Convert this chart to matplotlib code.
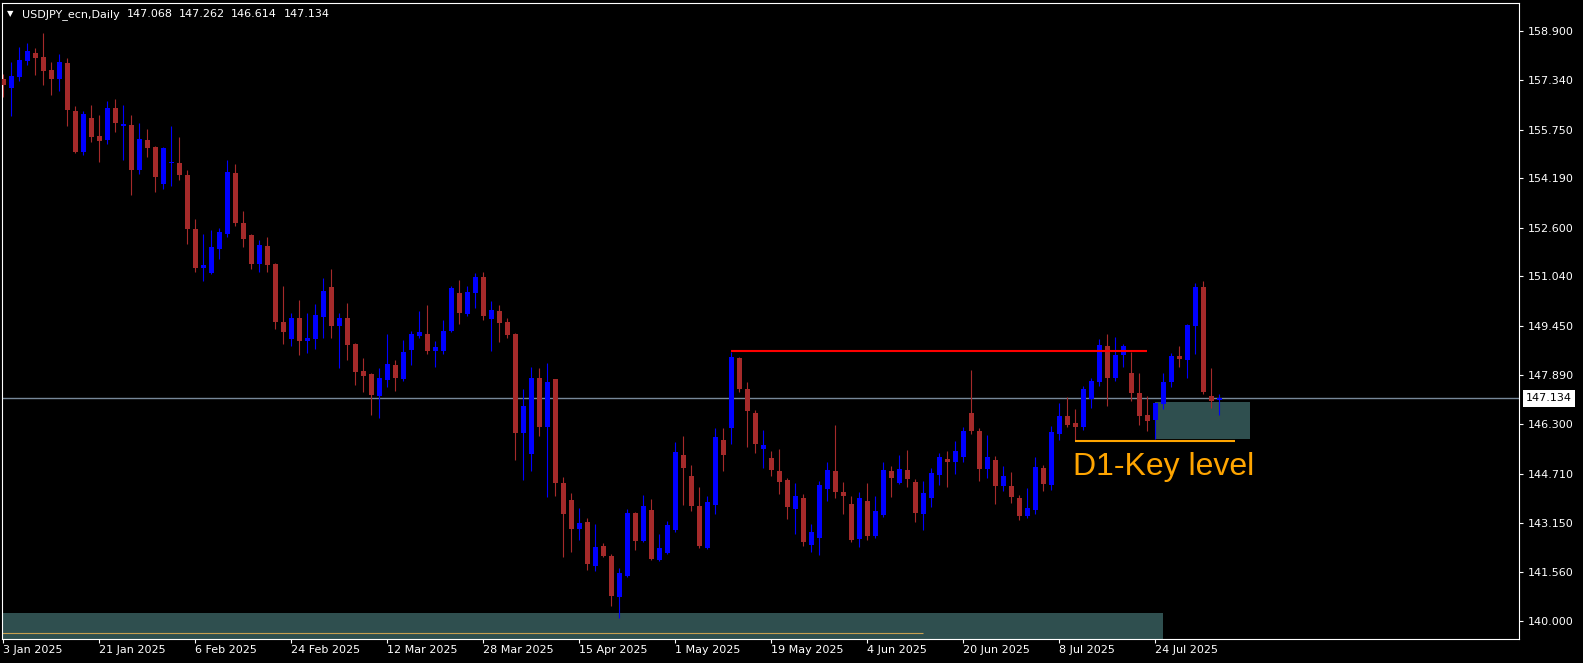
import matplotlib
matplotlib.use("Agg")
import matplotlib.pyplot as plt
import matplotlib.transforms as mtransforms
from matplotlib.patches import Rectangle
import numpy as np

# ---------------- data (USDJPY_ecn, Daily, 3 Jan 2025 .. 5 Aug 2025) ----------------
opens = [
    157.37, 157.08, 157.43, 157.95, 158.20, 158.08, 157.66, 157.37, 157.88, 156.34,
    155.03, 156.12, 155.54, 155.42, 156.44, 155.86, 155.90, 154.45, 155.42, 155.19,
    154.00, 154.69, 154.68, 154.29, 152.56, 151.31, 151.15, 151.92, 152.40, 154.36,
    152.75, 152.37, 151.44, 152.02, 151.44, 149.58, 149.04, 149.71, 148.97, 149.04,
    149.74, 150.70, 149.45, 149.71, 148.88, 148.01, 147.91, 147.21, 147.72, 148.20,
    147.75, 148.68, 149.13, 149.20, 148.65, 148.65, 149.29, 150.51, 149.84, 150.51,
    151.02, 149.68, 149.93, 149.58, 149.20, 146.02, 145.35, 147.79, 146.22, 147.75,
    144.42, 143.88, 142.95, 143.17, 141.76, 142.40, 142.08, 140.77, 141.44, 143.46,
    142.56, 143.55, 141.95, 142.18, 142.91, 145.32, 144.64, 143.68, 142.34, 143.72,
    145.80, 146.18, 148.43, 147.43, 146.66, 145.51, 145.22, 144.81, 144.52, 143.59,
    143.94, 142.43, 142.66, 144.23, 144.81, 144.13, 143.75, 142.63, 143.84, 142.72,
    143.39, 144.81, 144.42, 144.84, 144.45, 143.43, 143.94, 144.68, 145.19, 145.09,
    145.25, 146.66, 146.09, 144.87, 145.16, 144.32, 144.32, 143.94, 143.36, 143.55,
    144.90, 144.36, 145.99, 146.57, 146.34, 146.22, 147.11, 147.66, 148.81, 147.79,
    148.52, 147.95, 147.31, 146.60, 146.44, 146.95, 147.66, 148.49, 148.36, 149.45,
    150.70, 147.21, 147.068,
]
highs = [
    157.53, 157.92, 158.40, 158.52, 158.36, 158.85, 157.92, 158.17, 158.04, 156.51,
    156.34, 156.54, 156.22, 156.67, 156.73, 156.54, 156.22, 155.96, 155.77, 155.22,
    155.19, 155.86, 155.51, 154.45, 152.88, 152.40, 152.53, 152.59, 154.77, 154.65,
    153.14, 152.40, 152.21, 152.31, 151.46, 150.74, 149.87, 150.29, 149.87, 150.16,
    150.99, 151.28, 149.87, 150.19, 148.90, 148.43, 147.95, 148.11, 149.20, 148.36,
    149.00, 149.29, 149.93, 150.13, 148.97, 149.65, 150.74, 150.93, 150.74, 151.15,
    151.18, 150.25, 150.13, 149.71, 149.23, 147.43, 148.14, 148.11, 148.27, 147.77,
    144.61, 144.10, 143.62, 143.30, 143.11, 142.50, 142.14, 141.70, 143.59, 143.49,
    144.04, 143.91, 142.79, 143.20, 145.73, 145.93, 145.00, 144.29, 144.00, 146.18,
    146.18, 148.62, 148.46, 147.66, 146.76, 146.12, 145.45, 145.51, 144.58, 144.42,
    144.07, 143.11, 144.48, 145.09, 146.28, 144.45, 144.00, 144.13, 144.42, 144.00,
    145.09, 144.97, 145.32, 145.48, 144.55, 144.48, 144.90, 145.38, 145.45, 145.77,
    146.22, 148.04, 146.18, 145.96, 145.29, 144.97, 144.77, 144.04, 144.26, 145.25,
    145.00, 146.25, 146.98, 147.18, 146.79, 147.53, 147.79, 149.04, 149.20, 149.10,
    148.88, 148.62, 147.95, 147.21, 147.00, 147.95, 148.59, 148.81, 149.52, 150.83,
    150.90, 148.11, 147.262,
]
lows = [
    156.79, 156.18, 157.31, 157.82, 157.50, 157.18, 156.86, 156.99, 155.86, 155.00,
    154.93, 155.35, 154.71, 155.29, 155.67, 154.77, 153.65, 154.33, 154.87, 153.75,
    153.84, 153.94, 154.13, 152.08, 151.18, 150.90, 151.13, 151.60, 152.31, 152.66,
    151.99, 151.28, 151.18, 151.18, 149.36, 148.88, 148.81, 148.52, 148.59, 148.72,
    149.07, 149.07, 148.11, 148.36, 147.56, 147.34, 146.60, 146.50, 147.50, 147.37,
    147.69, 148.20, 149.07, 148.56, 148.14, 148.56, 149.27, 149.52, 149.77, 150.03,
    149.65, 148.65, 148.94, 149.07, 145.16, 144.52, 144.81, 145.93, 143.97, 144.00,
    142.05, 142.21, 142.59, 141.63, 141.60, 142.06, 140.48, 140.09, 141.42, 142.27,
    142.53, 141.96, 141.93, 142.14, 142.85, 143.72, 143.52, 142.34, 142.32, 143.43,
    144.81, 145.67, 147.34, 145.57, 145.38, 144.90, 144.64, 144.07, 143.27, 142.79,
    142.40, 142.21, 142.11, 143.84, 143.94, 143.43, 142.53, 142.37, 142.59, 142.66,
    143.33, 143.97, 144.39, 144.29, 143.17, 142.91, 143.65, 144.36, 144.29, 144.71,
    145.09, 145.99, 144.48, 144.58, 143.75, 144.16, 143.78, 143.23, 143.30, 143.43,
    144.16, 144.19, 145.80, 146.22, 145.77, 146.12, 146.82, 147.53, 146.89, 147.69,
    148.14, 147.05, 146.28, 146.09, 145.83, 146.79, 147.50, 148.14, 147.79, 148.56,
    147.27, 146.82, 146.614,
]
closes = [
    157.18, 157.47, 157.98, 158.27, 158.04, 157.63, 157.37, 157.92, 156.38, 155.03,
    156.25, 155.51, 155.38, 156.44, 155.96, 155.93, 154.45, 155.45, 155.16, 154.23,
    155.16, 154.71, 154.29, 152.56, 151.31, 151.41, 151.99, 152.47, 154.39, 152.75,
    152.24, 151.44, 152.05, 151.41, 149.58, 149.26, 149.71, 148.97, 149.07, 149.81,
    150.58, 149.45, 149.71, 148.84, 147.98, 147.85, 147.24, 147.79, 148.24, 147.79,
    148.62, 149.20, 149.26, 148.65, 148.78, 149.29, 150.67, 149.87, 150.54, 151.02,
    149.77, 149.97, 149.55, 149.16, 146.02, 146.89, 147.79, 146.22, 147.66, 144.42,
    143.43, 142.95, 143.14, 141.82, 142.37, 142.08, 140.80, 141.54, 143.46, 142.56,
    143.68, 141.98, 142.34, 143.07, 145.41, 144.90, 143.68, 142.40, 143.81, 145.89,
    145.32, 148.46, 147.43, 146.73, 145.67, 145.64, 144.84, 144.45, 143.65, 144.00,
    142.53, 142.85, 144.36, 144.84, 144.13, 144.00, 142.59, 143.94, 142.72, 143.52,
    144.84, 144.58, 144.87, 144.55, 143.46, 144.10, 144.74, 145.25, 145.09, 145.45,
    146.09, 146.09, 144.87, 145.25, 144.32, 144.64, 143.97, 143.36, 143.62, 144.93,
    144.39, 146.06, 146.57, 146.28, 146.22, 147.43, 147.69, 148.84, 147.79, 148.52,
    148.81, 147.31, 146.57, 146.41, 146.98, 147.66, 148.49, 148.40, 149.49, 150.70,
    147.34, 147.05, 147.134,
]

date_ticks = [0, 12, 24, 36, 48, 60, 72, 84, 96, 108, 120, 132, 144]
date_labels = ["3 Jan 2025", "21 Jan 2025", "6 Feb 2025", "24 Feb 2025", "12 Mar 2025",
               "28 Mar 2025", "15 Apr 2025", "1 May 2025", "19 May 2025", "4 Jun 2025",
               "20 Jun 2025", "8 Jul 2025", "24 Jul 2025"]
price_ticks = [158.900, 157.340, 155.750, 154.190, 152.600, 151.040, 149.450,
               147.890, 146.300, 144.710, 143.150, 141.560, 140.000]

symbol_name = "USDJPY_ecn,Daily"
ohlc_header = ["147.068", "147.262", "146.614", "147.134"]
current_price = 147.134
resistance_level = 148.64      # red line
resistance_span = (91, 143)
key_level = 145.77             # orange line
key_span = (133.9, 154.0)
key_zone = (143.94, 155.8, 145.84, 147.02)   # x0, x1, y0, y1
support_zone = (-1.0, 144.9, 139.0, 140.25)
support_line = (139.60, -1.0, 114.9)

# ---------------- figure ----------------
W, H = 1583, 663
fig = plt.figure(figsize=(W / 100, H / 100), dpi=100, facecolor="black")
L, R, T, B = 2, 1519, 3, 639
ax = fig.add_axes([L / W, 1 - B / H, (R - L) / W, (B - T) / H], facecolor="black")

o = np.array(opens)
h = np.array(highs)
l = np.array(lows)
c = np.array(closes)
x = np.arange(len(o))

ax.set_xlim(-0.1875, 189.44)
ax.set_ylim(139.42, 159.807)

# background objects
ax.add_patch(Rectangle((key_zone[0], key_zone[2]), key_zone[1] - key_zone[0],
                       key_zone[3] - key_zone[2], facecolor="#2F4F4F",
                       edgecolor="none", zorder=0.5))
ax.add_patch(Rectangle((support_zone[0], support_zone[2]), support_zone[1] - support_zone[0],
                       support_zone[3] - support_zone[2], facecolor="#2F4F4F",
                       edgecolor="none", zorder=0.5))
ax.hlines(support_line[0], support_line[1], support_line[2], color="#C8A050",
          lw=0.8, zorder=0.8)
ax.axhline(current_price, color="#778899", lw=1.0, zorder=0.9)

# candles
up = c >= o
cols = np.where(up, "#0000FF", "#A52A2A")
ax.vlines(x, l, h, colors=cols, linewidth=0.8, zorder=2)
bottom = np.minimum(o, c)
height = np.maximum(np.abs(c - o), 0.035)
ax.bar(x, height, bottom=bottom, width=0.62, color=cols, linewidth=0, zorder=3)

# annotations
ax.hlines(resistance_level, resistance_span[0], resistance_span[1], color="#FF0000",
          lw=1.5, zorder=4)
ax.hlines(key_level, key_span[0], key_span[1], color="#FFA500", lw=1.5, zorder=4)
ax.text(133.75, 144.68, "D1-Key level", color="#FFA500", fontsize=23,
        family="Liberation Sans", ha="left", va="baseline", zorder=5)

# spines
for s in ax.spines.values():
    s.set_color("white")
    s.set_linewidth(0.8)

# y axis on right
ax.yaxis.tick_right()
ax.set_yticks(price_ticks)
ax.set_yticklabels([f"{v:.3f}" for v in price_ticks])
ax.tick_params(axis="y", colors="white", labelcolor="white", labelsize=8,
               length=3, width=0.8, pad=3.5, direction="out")

# x axis
ax.set_xticks(date_ticks)
ax.set_xticklabels(date_labels, ha="left")
ax.tick_params(axis="x", colors="white", labelcolor="white", labelsize=8,
               length=3, width=0.8, pad=1.0, direction="out")
for lab in ax.get_xticklabels():
    lab.set_horizontalalignment("left")

# current price label on the axis
trans = mtransforms.blended_transform_factory(ax.transAxes, ax.transData)
ax.text((1526 - L) / (R - L), current_price, f"{current_price:.3f}", transform=trans,
        color="black", fontsize=8, ha="left", va="center", clip_on=False, zorder=6,
        bbox=dict(boxstyle="square,pad=0.3", facecolor="white", edgecolor="none"))

# title
fig.text(7 / W, 1 - 16 / H, "▼", color="white", fontsize=6, ha="left", va="baseline")
fig.text(22 / W, 1 - 17 / H, symbol_name, color="white", fontsize=8,
         ha="left", va="baseline")
for xp, s in zip([127, 179, 231, 284], ohlc_header):
    fig.text(xp / W, 1 - 17 / H, s, color="white", fontsize=8, ha="left", va="baseline")

fig.savefig("out.png", dpi=100, facecolor="black")
